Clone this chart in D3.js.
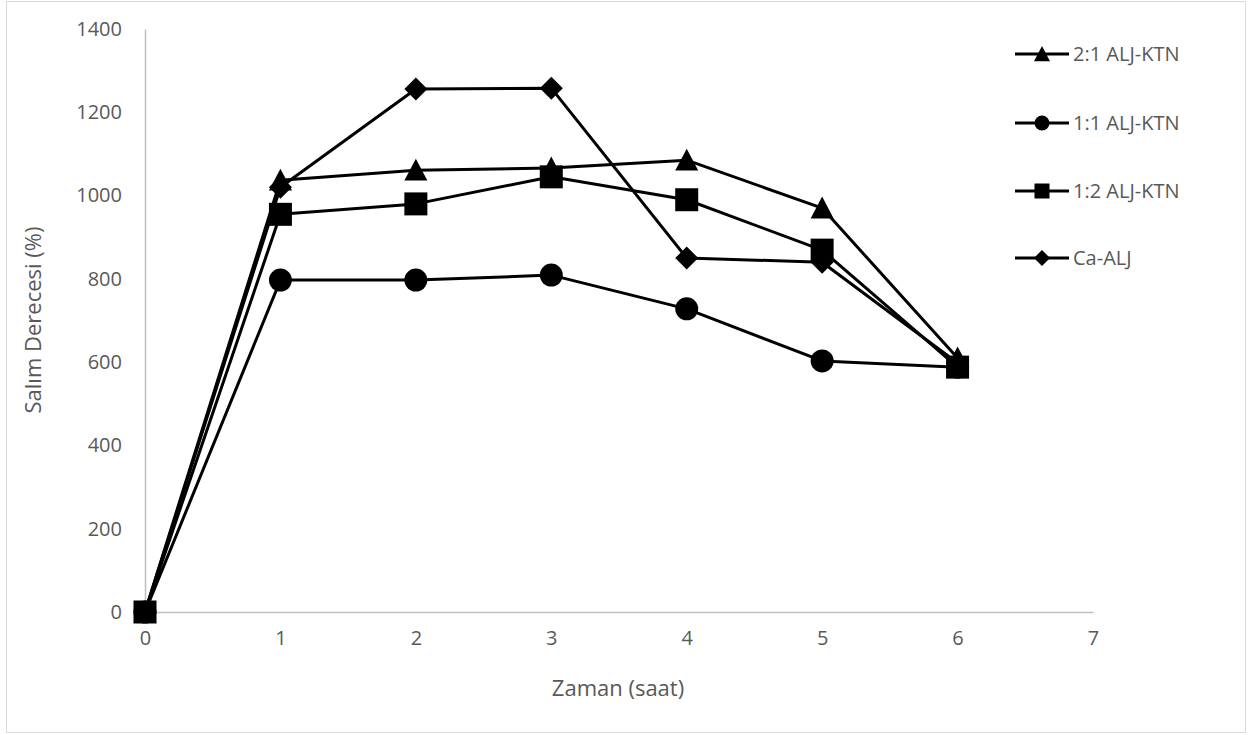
<!DOCTYPE html>
<html><head><meta charset="utf-8">
<script src="https://cdn.jsdelivr.net/npm/d3@7"></script>
<style>html,body{margin:0;padding:0;background:#fff;}svg{display:block;font-family:"Open Sans","Noto Sans",sans-serif;}</style>
</head><body>
<svg id="c" width="1259" height="735"></svg>
<script>
const hours = [0, 1, 2, 3, 4, 5, 6];
const seriesNames = ["2:1 ALJ-KTN", "1:1 ALJ-KTN", "1:2 ALJ-KTN", "Ca-ALJ"];
const s21 = [0, 1037, 1061, 1066, 1085, 970, 610];
const s11 = [0, 797, 797, 809, 728, 603, 588];
const s12 = [0, 955, 980, 1045, 990, 869, 588];
const sCa = [0, 1020, 1256, 1258, 850, 840, 598];
const xTicks = [0, 1, 2, 3, 4, 5, 6, 7];
const yTicks = [0, 200, 400, 600, 800, 1000, 1200, 1400];
const allSeries = [s21, s11, s12, sCa];

// marker shape generators (r = half-width)
function shape(k, r) {
  if (k === 0) return `M0,${-r}L${r},${r * 0.9}L${-r},${r * 0.9}Z`;
  if (k === 1) return `M${r},0A${r},${r} 0 1 1 ${-r},0A${r},${r} 0 1 1 ${r},0Z`;
  if (k === 2) return `M${-r},${-r}H${r}V${r}H${-r}Z`;
  return `M0,${-r}L${r},0L0,${r}L${-r},0Z`;
}
const markerR = [11.5, 11.5, 11.5, 11.5];
const legendR = [8, 7.5, 7.5, 8];

const svg = d3.select("#c");
svg.append("rect").attr("x", 6.5).attr("y", 1.5).attr("width", 1239).attr("height", 731)
  .attr("fill", "#fff").attr("stroke", "#d9d9d9").attr("stroke-width", 1);

const x = d3.scaleLinear().domain([0, 7]).range([145, 1093]);
const y = d3.scaleLinear().domain([0, 1400]).range([612, 29]);

const gx = svg.append("g").attr("transform", "translate(0,612)")
  .call(d3.axisBottom(x).tickValues(xTicks).tickSize(0).tickPadding(19).tickFormat(d3.format("d")));
const gy = svg.append("g").attr("transform", "translate(145,0)")
  .call(d3.axisLeft(y).tickValues(yTicks).tickSize(0).tickPadding(23).tickFormat(d3.format("d")));
[gx, gy].forEach(g => {
  g.select(".domain").attr("stroke", "#bfbfbf").attr("stroke-width", 1.5);
  g.selectAll("text").attr("fill", "#595959").style("font-size", "20px").style("font-family", '"Open Sans","Noto Sans",sans-serif');
});

svg.append("text").attr("x", 618).attr("y", 696).attr("text-anchor", "middle")
  .attr("fill", "#595959").style("font-size", "22px").text("Zaman (saat)");
svg.append("text").attr("transform", "translate(41,320) rotate(-90)").attr("text-anchor", "middle")
  .attr("fill", "#595959").style("font-size", "22px").text("Salım Derecesi (%)");

const line = d3.line().x((d, i) => x(hours[i])).y(d => y(d));
const order = [1, 0, 3, 2];
order.forEach(k => {
  svg.append("path").datum(allSeries[k]).attr("d", line)
    .attr("fill", "none").attr("stroke", "#000").attr("stroke-width", 3).attr("stroke-linejoin", "round");
});
order.forEach(k => {
  svg.append("g").selectAll("path").data(allSeries[k]).join("path")
    .attr("transform", (d, i) => `translate(${x(hours[i])},${y(d)})`)
    .attr("d", shape(k, markerR[k]))
    .attr("fill", "#000");
});

const legendY = [54, 123, 191, 258];
seriesNames.forEach((name, k) => {
  const g = svg.append("g").attr("transform", `translate(0,${legendY[k]})`);
  g.append("line").attr("x1", 1015).attr("x2", 1069).attr("y1", 0).attr("y2", 0)
    .attr("stroke", "#000").attr("stroke-width", 3);
  g.append("path").attr("transform", `translate(1042,0)`)
    .attr("d", shape(k, legendR[k])).attr("fill", "#000");
  g.append("text").attr("x", 1073).attr("y", 7).attr("fill", "#595959")
    .style("font-size", "20px").text(name);
});
</script>
</body></html>
